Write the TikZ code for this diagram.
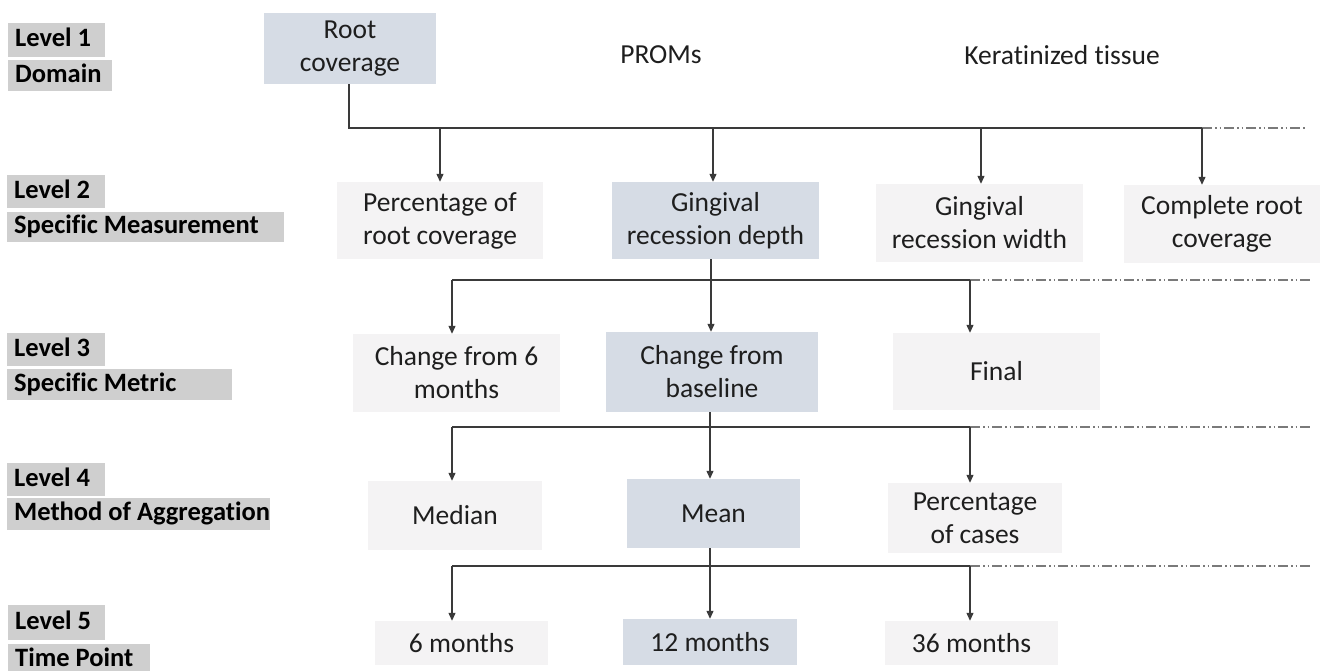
\documentclass[tikz,border=0pt]{standalone}
\usepackage{fontspec}
\setmainfont{Carlito}[Ligatures=NoCommon]
\usetikzlibrary{arrows.meta}
\definecolor{boxblue}{HTML}{D6DCE5}
\definecolor{boxgrey}{HTML}{F4F3F4}
\definecolor{lvlgrey}{HTML}{CFCFCF}
\definecolor{linecol}{HTML}{3A3A3A}
\definecolor{dashcol}{HTML}{7A7A7A}
\definecolor{txt}{HTML}{1E1E1E}
\newcommand{\lvltext}[2]{\makebox[\dimexpr #1-14pt\relax][l]{#2}}
\tikzset{
  x={(1pt,0)}, y={(0,-1pt)},
  base/.style={inner sep=0pt, align=center, text=txt,
    font=\fontsize{27.5}{33}\selectfont},
  bluebox/.style={base, fill=boxblue, minimum width=#1},
  greybox/.style={base, fill=boxgrey, minimum width=#1},
  plain/.style={base},
  lvl/.style={anchor=north west, fill=lvlgrey, inner xsep=7pt, inner ysep=0pt,
    text=black, font=\fontsize{26.5}{33}\selectfont\bfseries,
    text height=18.5pt, text depth=5.5pt},
  bus/.style={draw=linecol, line width=1.2pt},
  arr/.style={draw=linecol, line width=1.2pt, -{Triangle[length=8pt,width=7pt]}},
  dashbus/.style={draw=dashcol, line width=1.3pt,
    dash pattern=on 10pt off 3pt on 1.5pt off 3pt on 1.5pt off 3pt}
}
\begin{document}
\begin{tikzpicture}
\useasboundingbox (0,0) rectangle (1322,671);

% level labels
\node[lvl, minimum height=34pt] (l1) at (8,23) {\lvltext{97pt}{Level 1}};
\node[lvl, minimum height=31pt] (l1b) at (8,60) {\lvltext{104pt}{Domain}};
\node[lvl, minimum height=33pt] (l2) at (7,175) {\lvltext{98pt}{Level 2}};
\node[lvl, minimum height=30pt] (l2b) at (7,212) {\lvltext{277pt}{Specific Measurement}};
\node[lvl, minimum height=33pt] (l3) at (7,333) {\lvltext{98pt}{Level 3}};
\node[lvl, minimum height=31pt] (l3b) at (7,369) {\lvltext{225pt}{Specific Metric}};
\node[lvl, minimum height=33pt] (l4) at (7,463) {\lvltext{98pt}{Level 4}};
\node[lvl, minimum height=32pt] (l4b) at (7,498) {\lvltext{263pt}{Method of Aggregation}};
\node[lvl, minimum height=35pt] (l5) at (8,605) {\lvltext{97pt}{Level 5}};
\node[lvl, minimum height=32pt] (l5b) at (8,644) {\lvltext{142pt}{Time Point}};

% level 1
\node[bluebox=172pt, minimum height=71pt] (root) at (350,48.5) {Root\\coverage};
\node[plain] (proms) at (661,55) {PROMs};
\node[plain] (kera) at (1062,55) {Keratinized tissue};

% level 2
\node[greybox=206pt, minimum height=77pt] (prc) at (440,220.5) {Percentage of\\root coverage};
\node[bluebox=207pt, minimum height=77pt] (grd) at (715.5,220.5) {Gingival\\recession depth};
\node[greybox=207pt, minimum height=78pt] (grw) at (979.5,223) {Gingival\\recession width};
\node[greybox=196pt, minimum height=78pt] (crc) at (1222,224) {Complete root\\coverage};

% level 3
\node[greybox=207pt, minimum height=78pt] (c6) at (456.5,373) {Change from 6\\months};
\node[bluebox=212pt, minimum height=80pt] (cfb) at (712,372) {Change from\\baseline};
\node[greybox=207pt, minimum height=77pt] (fin) at (996.5,371.5) {Final};

% level 4
\node[greybox=174pt, minimum height=69pt] (med) at (455,515.5) {Median};
\node[bluebox=173pt, minimum height=69pt] (mean) at (713.5,513.5) {Mean};
\node[greybox=174pt, minimum height=70pt] (pc) at (975,518) {Percentage\\of cases};

% level 5
\node[greybox=173pt, minimum height=44pt] (m6) at (461.5,643) {6 months};
\node[bluebox=174pt, minimum height=46pt] (m12) at (710,642) {12 months};
\node[greybox=173pt, minimum height=44pt] (m36) at (971.5,643) {36 months};

% bus 1
\coordinate (a0) at (349,128);
\coordinate (a1) at (440,128);
\coordinate (a2) at (713,128);
\coordinate (a3) at (981,128);
\coordinate (a4) at (1202,128);
\coordinate (a5) at (1305,128);
\draw[bus] (root.south -| a0) -- (a0) -- (a4);
\draw[dashbus] (a4) -- (a5);
\draw[arr] (a1) -- (a1 |- prc.north);
\draw[arr] (a2) -- (a2 |- grd.north);
\draw[arr] (a3) -- (a3 |- grw.north);
\draw[arr] (a4) -- (a4 |- crc.north);

% bus 2
\coordinate (b0) at (711,280);
\coordinate (b1) at (452,280);
\coordinate (b3) at (970,280);
\coordinate (b5) at (1310,280);
\draw[bus] (grd.south -| b0) -- (b0);
\draw[bus] (b1) -- (b3);
\draw[dashbus] (b3) -- (b5);
\draw[arr] (b1) -- (b1 |- c6.north);
\draw[arr] (b0) -- (b0 |- cfb.north);
\draw[arr] (b3) -- (b3 |- fin.north);

% bus 3
\coordinate (c0) at (710,427);
\coordinate (c1) at (452,427);
\coordinate (c3) at (970,427);
\coordinate (c5) at (1310,427);
\draw[bus] (cfb.south -| c0) -- (c0);
\draw[bus] (c1) -- (c3);
\draw[dashbus] (c3) -- (c5);
\draw[arr] (c1) -- (c1 |- med.north);
\draw[arr] (c0) -- (c0 |- mean.north);
\draw[arr] (c3) -- (c3 |- pc.north);

% bus 4
\coordinate (d0) at (710,566);
\coordinate (d1) at (452,566);
\coordinate (d3) at (970,566);
\coordinate (d5) at (1310,566);
\draw[bus] (mean.south -| d0) -- (d0);
\draw[bus] (d1) -- (d3);
\draw[dashbus] (d3) -- (d5);
\draw[arr] (d1) -- (d1 |- m6.north);
\draw[arr] (d0) -- (d0 |- m12.north);
\draw[arr] (d3) -- (d3 |- m36.north);
\end{tikzpicture}
\end{document}
